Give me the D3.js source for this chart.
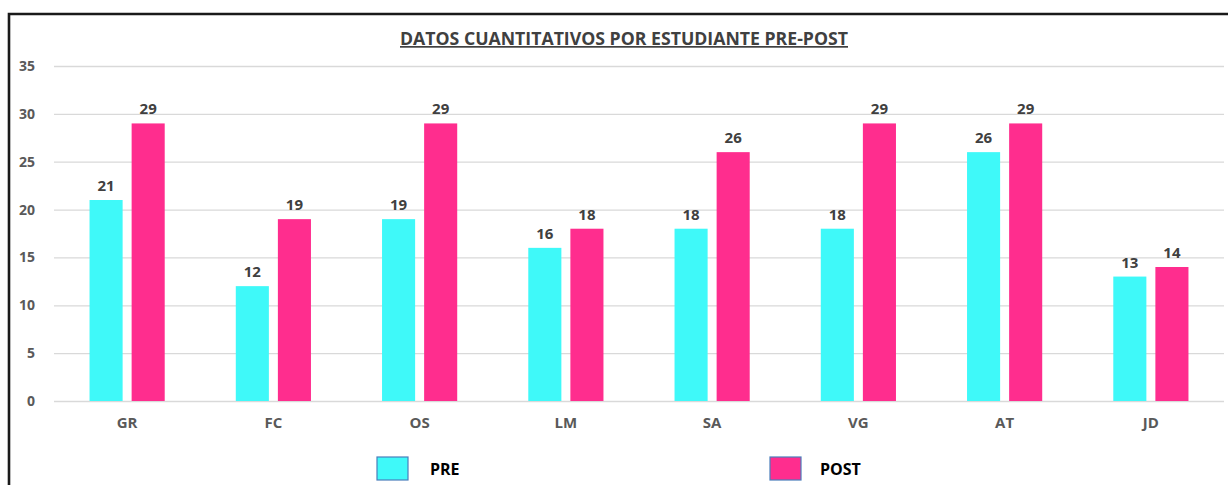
<!DOCTYPE html>
<html>
<head>
<meta charset="utf-8">
<script src="https://cdn.jsdelivr.net/npm/d3@7"></script>
<style>
  html, body { margin: 0; padding: 0; background: #fff; }
  svg { display: block; }
  text { font-family: "Open Sans", "Noto Sans", sans-serif; font-weight: bold; }
</style>
</head>
<body>
<svg id="chart"></svg>
<script>
// Datos del gráfico
const estudiantes = ["GR", "FC", "OS", "LM", "SA", "VG", "AT", "JD"];
const series = ["PRE", "POST"];
const valoresPre = [21, 12, 19, 16, 18, 18, 26, 13];
const valoresPost = [29, 19, 29, 18, 26, 29, 29, 14];
const ticksY = [0, 5, 10, 15, 20, 25, 30, 35];
const colores = ["#3ff9f9", "#ff2d8e"];

const width = 1228, height = 485;
const margin = { top: 66, right: 4, bottom: 84, left: 54 };

const svg = d3.select("#chart")
    .attr("width", width)
    .attr("height", height);

// Marco exterior (solo izquierda y arriba visibles)
svg.append("path")
    .attr("d", `M9,${height} V14 H${width}`)
    .attr("fill", "none")
    .attr("stroke", "#1a1a1a")
    .attr("stroke-width", 2.6);

const x0 = d3.scaleBand()
    .domain(estudiantes)
    .range([margin.left, width - margin.right])
    .paddingInner(0.486)
    .paddingOuter(0.243);

const x1 = d3.scaleBand()
    .domain(series)
    .range([0, x0.bandwidth()])
    .paddingInner(0.214);

const y = d3.scaleLinear()
    .domain([0, 35])
    .range([height - margin.bottom, margin.top]);

// Líneas de la cuadrícula
const yAxis = svg.append("g")
    .attr("transform", `translate(${margin.left},0)`)
    .call(d3.axisLeft(y).tickValues(ticksY).tickSize(-(width - margin.left - margin.right)).tickPadding(19));
yAxis.select(".domain").remove();
yAxis.selectAll(".tick line")
    .attr("stroke", "#d9d9d9")
    .attr("stroke-width", 1.3);
yAxis.selectAll(".tick text")
    .attr("fill", "#595959")
    .style("font-size", "14px");

// Eje X
const xAxis = svg.append("g")
    .attr("transform", `translate(0,${y(0)})`)
    .call(d3.axisBottom(x0).tickSize(0).tickPadding(16));
xAxis.select(".domain").remove();
xAxis.selectAll(".tick text")
    .attr("fill", "#595959")
    .style("font-size", "15px");

const datos = estudiantes.map((e, i) => ({
    id: e,
    valores: [
        { serie: "PRE", valor: valoresPre[i] },
        { serie: "POST", valor: valoresPost[i] }
    ]
}));

const grupos = svg.append("g")
    .selectAll("g")
    .data(datos)
    .enter().append("g")
    .attr("transform", d => `translate(${x0(d.id)},0)`);

grupos.selectAll("rect")
    .data(d => d.valores)
    .enter().append("rect")
    .attr("x", d => x1(d.serie))
    .attr("y", d => y(d.valor))
    .attr("width", x1.bandwidth())
    .attr("height", d => y(0) - y(d.valor))
    .attr("fill", (d, i) => colores[i]);

// Etiquetas de valores
grupos.selectAll("text.valor")
    .data(d => d.valores)
    .enter().append("text")
    .attr("class", "valor")
    .attr("x", d => x1(d.serie) + x1.bandwidth() / 2)
    .attr("y", d => y(d.valor) - 9)
    .attr("text-anchor", "middle")
    .attr("fill", "#404040")
    .style("font-size", "15px")
    .text(d => d.valor);

// Título
svg.append("text")
    .attr("x", 624)
    .attr("y", 45)
    .attr("text-anchor", "middle")
    .attr("fill", "#404040")
    .attr("text-decoration", "underline")
    .attr("textLength", 448)
    .attr("lengthAdjust", "spacingAndGlyphs")
    .style("font-size", "17px")
    .text("DATOS CUANTITATIVOS POR ESTUDIANTE PRE-POST");

// Leyenda
const leyendaX = [377, 770];
const leyenda = svg.append("g")
    .selectAll("g")
    .data(series)
    .enter().append("g")
    .attr("transform", (d, i) => `translate(${leyendaX[i]},457)`);

leyenda.append("rect")
    .attr("width", 31)
    .attr("height", 23)
    .attr("fill", (d, i) => colores[i])
    .attr("stroke", "#4a7ebb")
    .attr("stroke-width", 1.2);

leyenda.append("text")
    .attr("x", (d, i) => i === 0 ? 53 : 50)
    .attr("y", 18)
    .attr("fill", "#000")
    .style("font-size", "16px")
    .text(d => d);
</script>
</body>
</html>
